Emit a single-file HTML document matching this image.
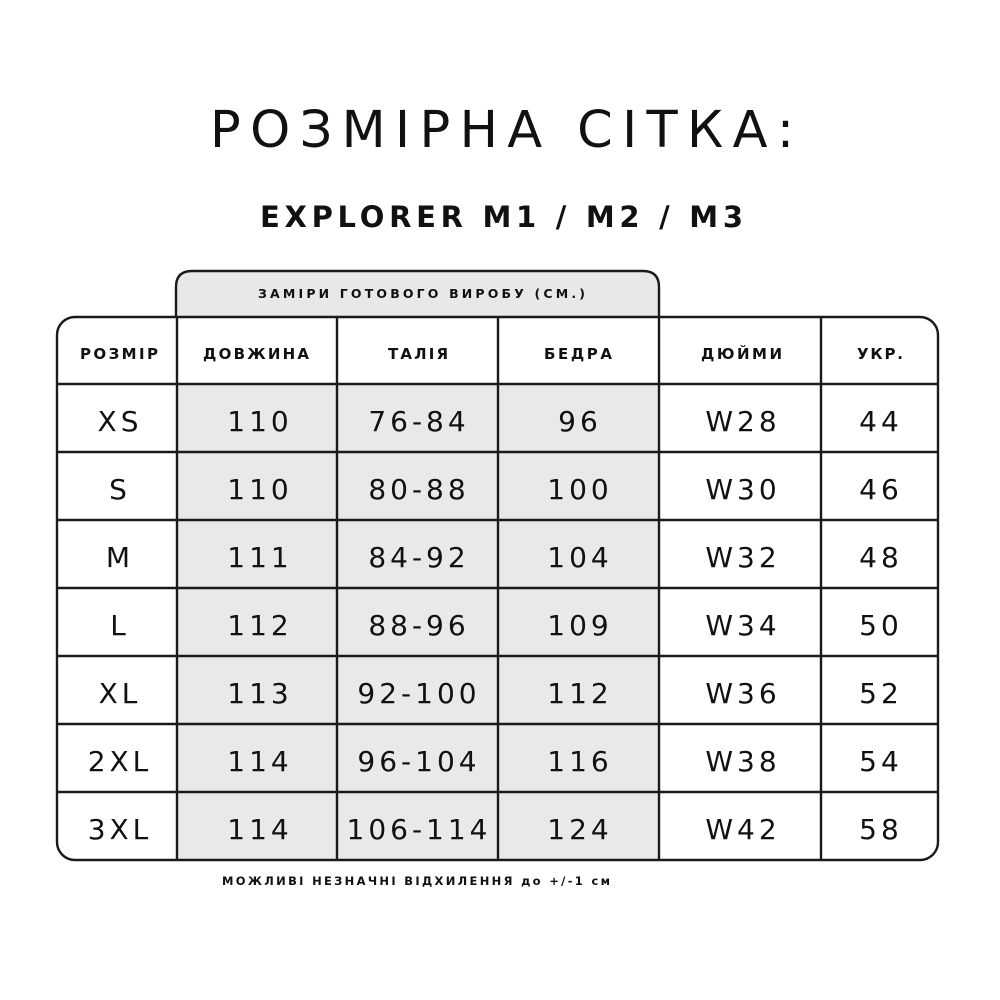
<!DOCTYPE html>
<html>
<head>
<meta charset="utf-8">
<style>
  html, body { margin:0; padding:0; background:#fff; }
  svg { display:block; }
  text { font-family: "DejaVu Sans", "Liberation Sans", sans-serif; fill:#111; }
</style>
</head>
<body>
<svg width="1000" height="1000" viewBox="0 0 1000 1000" xmlns="http://www.w3.org/2000/svg">
  <rect x="0" y="0" width="1000" height="1000" fill="#fff"/>

  <!-- Title -->
  <text x="210" y="147" font-size="51" textLength="584" lengthAdjust="spacing">РОЗМІРНА СІТКА:</text>
  <text x="260" y="227" font-size="29" font-weight="bold" textLength="483" lengthAdjust="spacing">EXPLORER M1 / M2 / M3</text>

  <!-- Tab -->
  <path d="M176,318 V287 Q176,271 192,271 H643 Q659,271 659,287 V318" fill="#e8e8e8" stroke="#1a1a1a" stroke-width="2.4"/>
  <text x="421.5" y="298" font-size="12.5" font-weight="bold" text-anchor="middle" textLength="327" lengthAdjust="spacing">ЗАМІРИ ГОТОВОГО ВИРОБУ (СМ.)</text>

  <!-- gray data area -->
  <rect x="177" y="384" width="482" height="476" fill="#e9e9e9"/>

  <!-- outer table -->
  <rect x="57" y="317" width="881" height="543" rx="18" ry="18" fill="none" stroke="#1a1a1a" stroke-width="2.4"/>

  <g stroke="#1a1a1a" stroke-width="2.4">
    <line x1="57" y1="384" x2="938" y2="384"/>
    <line x1="57" y1="452" x2="938" y2="452"/>
    <line x1="57" y1="520" x2="938" y2="520"/>
    <line x1="57" y1="588" x2="938" y2="588"/>
    <line x1="57" y1="656" x2="938" y2="656"/>
    <line x1="57" y1="724" x2="938" y2="724"/>
    <line x1="57" y1="792" x2="938" y2="792"/>
    <line x1="177" y1="317" x2="177" y2="860"/>
    <line x1="337" y1="317" x2="337" y2="860"/>
    <line x1="498" y1="317" x2="498" y2="860"/>
    <line x1="659" y1="317" x2="659" y2="860"/>
    <line x1="821" y1="317" x2="821" y2="860"/>
  </g>

  <!-- header labels -->
  <g font-size="15" font-weight="bold" text-anchor="middle">
    <text x="119" y="359" textLength="78" lengthAdjust="spacing">РОЗМІР</text>
    <text x="256" y="359" textLength="106" lengthAdjust="spacing">ДОВЖИНА</text>
    <text x="418" y="359" textLength="60" lengthAdjust="spacing">ТАЛІЯ</text>
    <text x="578" y="359" textLength="68" lengthAdjust="spacing">БЕДРА</text>
    <text x="741.5" y="359" textLength="81" lengthAdjust="spacing">ДЮЙМИ</text>
    <text x="880" y="359" textLength="46" lengthAdjust="spacing">УКР.</text>
  </g>

  <!-- data -->
  <g font-size="28" text-anchor="middle" letter-spacing="4">
    <text x="120" y="431">XS</text>
    <text x="260" y="431">110</text>
    <text x="419" y="431">76-84</text>
    <text x="580" y="431">96</text>
    <text x="743" y="431">W28</text>
    <text x="881" y="431">44</text>

    <text x="120" y="499">S</text>
    <text x="260" y="499">110</text>
    <text x="419" y="499">80-88</text>
    <text x="580" y="499">100</text>
    <text x="743" y="499">W30</text>
    <text x="881" y="499">46</text>

    <text x="120" y="567">M</text>
    <text x="260" y="567">111</text>
    <text x="419" y="567">84-92</text>
    <text x="580" y="567">104</text>
    <text x="743" y="567">W32</text>
    <text x="881" y="567">48</text>

    <text x="120" y="635">L</text>
    <text x="260" y="635">112</text>
    <text x="419" y="635">88-96</text>
    <text x="580" y="635">109</text>
    <text x="743" y="635">W34</text>
    <text x="881" y="635">50</text>

    <text x="120" y="703">XL</text>
    <text x="260" y="703">113</text>
    <text x="419" y="703">92-100</text>
    <text x="580" y="703">112</text>
    <text x="743" y="703">W36</text>
    <text x="881" y="703">52</text>

    <text x="120" y="771">2XL</text>
    <text x="260" y="771">114</text>
    <text x="419" y="771">96-104</text>
    <text x="580" y="771">116</text>
    <text x="743" y="771">W38</text>
    <text x="881" y="771">54</text>

    <text x="120" y="839">3XL</text>
    <text x="260" y="839">114</text>
    <text x="419" y="839">106-114</text>
    <text x="580" y="839">124</text>
    <text x="743" y="839">W42</text>
    <text x="881" y="839">58</text>
  </g>

  <!-- footer -->
  <text x="222" y="885" font-size="11.5" font-weight="bold" textLength="388" lengthAdjust="spacing">МОЖЛИВІ НЕЗНАЧНІ ВІДХИЛЕННЯ до +/-1 см</text>
</svg>
</body>
</html>
